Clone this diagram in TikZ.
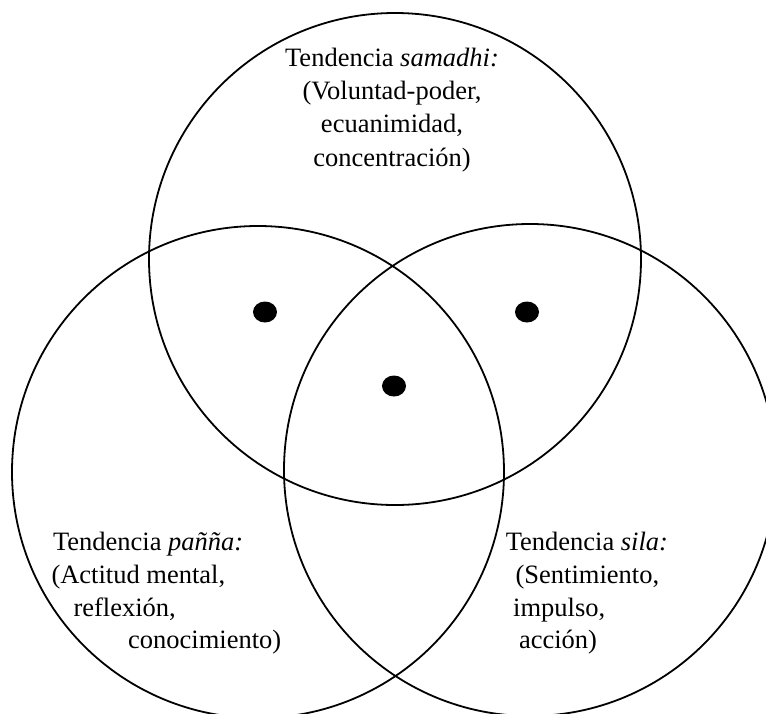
\documentclass[tikz,border=0pt]{standalone}
\usepackage{fontspec}
\setmainfont{Liberation Serif}
\begin{document}
\begin{tikzpicture}[x=1pt,y=-1pt,
  ring/.style={draw=black,line width=1.8pt},
  dot/.style={fill=black},
  lbl/.style={inner sep=0pt,anchor=base west,font=\fontsize{26.5}{33}\selectfont},
  clbl/.style={inner sep=0pt,anchor=base,font=\fontsize{26.5}{33}\selectfont}]
\useasboundingbox (0,0) rectangle (766,713);
\clip (0,0) rectangle (766,713);
\fill[white] (0,0) rectangle (766,713);
% circles
\draw[ring] (395,259) circle[radius=246];
\draw[ring] (258,472) circle[radius=246];
\draw[ring] (530,470) circle[radius=246];
% dots
\fill[dot] (265,312) ellipse[x radius=12,y radius=10.5];
\fill[dot] (527,312) ellipse[x radius=12,y radius=10.5];
\fill[dot] (394,386) ellipse[x radius=12,y radius=10.5];
% top text
\node[clbl] (t1) at (392,66) {Tendencia \textit{samadhi:}};
\node[clbl] (t2) at (392,99) {(Voluntad-poder,};
\node[clbl] (t3) at (392,132) {ecuanimidad,};
\node[clbl] (t4) at (392,166) {concentración)};
% left text
\node[lbl] (l1) at (52.8,550) {Tendencia \textit{pañña:}};
\node[lbl] (l2) at (51.3,583) {(Actitud mental,};
\node[lbl] (l3) at (73.3,616) {reflexión,};
\node[lbl] (l4) at (128,648) {conocimiento)};
% right text
\node[lbl] (r1) at (505.6,550) {Tendencia \textit{sila:}};
\node[lbl] (r2) at (515.4,583) {(Sentimiento,};
\node[lbl] (r3) at (513,616) {impulso,};
\node[lbl] (r4) at (518.8,648) {acción)};
\end{tikzpicture}
\end{document}
